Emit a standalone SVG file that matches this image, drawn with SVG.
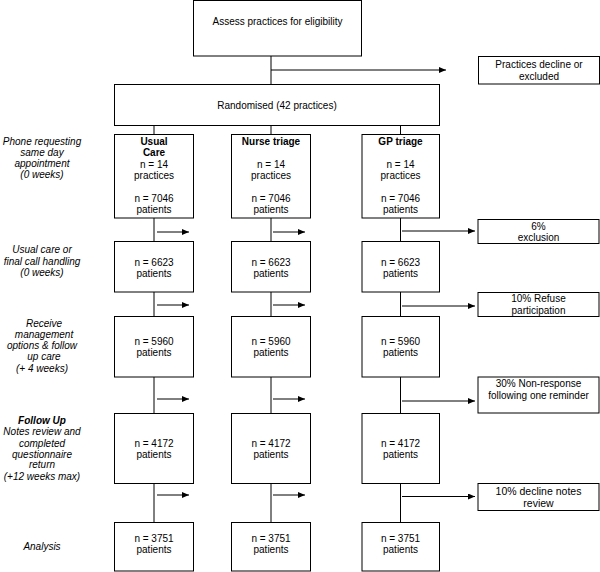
<svg xmlns="http://www.w3.org/2000/svg" width="600" height="572" viewBox="0 0 600 572">
<defs>
<marker id="ah" markerWidth="7" markerHeight="6" refX="7" refY="3" orient="auto" markerUnits="userSpaceOnUse">
<path d="M0,0 L7,3 L0,6 Z" fill="#000"/>
</marker>
<style>
rect{fill:#fff;stroke:#000;stroke-width:1}
text{font-family:"Liberation Sans",Arial,sans-serif;font-size:10px;fill:#000;text-anchor:middle}
.b{font-weight:bold}
.i{font-style:italic}
.c line{stroke:#000;stroke-width:1}
.c .a{marker-end:url(#ah)}
</style>
</defs>
<rect x="0" y="0" width="600" height="572" style="stroke:none"/>

<g class="c" id="connectors">
<line x1="271" y1="56" x2="271" y2="84"/>
<line class="a" x1="271" y1="70" x2="446" y2="70"/>
<line x1="154" y1="125.5" x2="154" y2="134.5"/>
<line x1="271" y1="125.5" x2="271" y2="134.5"/>
<line x1="400.5" y1="125.5" x2="400.5" y2="134.5"/>
<line x1="154" y1="218" x2="154" y2="241"/>
<line x1="271" y1="218" x2="271" y2="241"/>
<line x1="400.5" y1="218" x2="400.5" y2="241"/>
<line x1="154" y1="292" x2="154" y2="316"/>
<line x1="271" y1="292" x2="271" y2="316"/>
<line x1="400.5" y1="292" x2="400.5" y2="316"/>
<line x1="154" y1="377" x2="154" y2="413"/>
<line x1="271" y1="377" x2="271" y2="413"/>
<line x1="400.5" y1="377" x2="400.5" y2="413"/>
<line x1="154" y1="483" x2="154" y2="522"/>
<line x1="271" y1="483" x2="271" y2="522"/>
<line x1="400.5" y1="483" x2="400.5" y2="522"/>
<line class="a" x1="157" y1="232" x2="189" y2="232"/>
<line class="a" x1="273" y1="232" x2="305" y2="232"/>
<line class="a" x1="402" y1="231" x2="475" y2="231"/>
<line class="a" x1="157" y1="305" x2="189" y2="305"/>
<line class="a" x1="273" y1="305" x2="305" y2="305"/>
<line class="a" x1="402" y1="306" x2="475" y2="306"/>
<line class="a" x1="157" y1="399" x2="189" y2="399"/>
<line class="a" x1="273" y1="399" x2="305" y2="399"/>
<line class="a" x1="402" y1="401" x2="475" y2="401"/>
<line class="a" x1="157" y1="495" x2="189" y2="495"/>
<line class="a" x1="273" y1="495" x2="305" y2="495"/>
<line class="a" x1="402" y1="496.5" x2="475" y2="496.5"/>
</g>

<g id="assess"><rect x="193.5" y="0.5" width="168" height="55.5"/><text x="277.5" y="25">Assess practices for eligibility</text></g>
<g id="decline"><rect x="478.5" y="56.5" width="121" height="27.5"/><text x="539" y="67.5">Practices decline or</text><text x="539" y="80">excluded</text></g>
<g id="randomised"><rect x="114.5" y="84.5" width="325" height="41"/><text x="277" y="108.5">Randomised  (42 practices)</text></g>

<g id="lbl1" class="i"><text x="42" y="144.5" class="i">Phone requesting</text><text x="42" y="155.5" class="i">same day</text><text x="42" y="166.5" class="i">appointment</text><text x="42" y="178" class="i">(0 weeks)</text></g>
<g id="lbl2"><text x="42" y="253" class="i">Usual care or</text><text x="42" y="264.5" class="i">final call handling</text><text x="42" y="276" class="i">(0 weeks)</text></g>
<g id="lbl3"><text x="44" y="326.5" class="i">Receive</text><text x="44" y="337.5" class="i">management</text><text x="42" y="349" class="i">options &amp; follow</text><text x="44" y="360" class="i">up care</text><text x="42" y="371.5" class="i">(+ 4 weeks)</text></g>
<g id="lbl4"><text x="42" y="423.5" class="i b">Follow Up</text><text x="42" y="434.5" class="i">Notes review and</text><text x="42" y="446.5" class="i">completed</text><text x="42" y="457.5" class="i">questionnaire</text><text x="42" y="468" class="i">return</text><text x="42" y="479.5" class="i">(+12 weeks max)</text></g>
<g id="lbl5"><text x="42" y="549.5" class="i">Analysis</text></g>

<g id="uc1"><rect x="114.5" y="134.5" width="79" height="83.5"/><text x="154" y="145" class="b">Usual</text><text x="154" y="156" class="b">Care</text><text x="154" y="167.5">n = 14</text><text x="154" y="178.5">practices</text><text x="154" y="201.5">n = 7046</text><text x="154" y="212.5">patients</text></g>
<g id="nt1"><rect x="231.5" y="134.5" width="79" height="83.5"/><text x="271" y="145" class="b">Nurse triage</text><text x="271" y="167.5">n = 14</text><text x="271" y="178.5">practices</text><text x="271" y="201.5">n = 7046</text><text x="271" y="212.5">patients</text></g>
<g id="gp1"><rect x="362" y="134.5" width="77.5" height="83.5"/><text x="400.5" y="145" class="b">GP triage</text><text x="400.5" y="167.5">n = 14</text><text x="400.5" y="178.5">practices</text><text x="400.5" y="201.5">n = 7046</text><text x="400.5" y="212.5">patients</text></g>

<g id="ex1"><rect x="478" y="219.5" width="121" height="24"/><text x="538.5" y="229.5">6%</text><text x="538.5" y="241">exclusion</text></g>

<g id="uc2"><rect x="114.5" y="241.5" width="79" height="50.5"/><text x="154" y="265.5">n = 6623</text><text x="154" y="277">patients</text></g>
<g id="nt2"><rect x="231.5" y="241.5" width="79" height="50.5"/><text x="271" y="265.5">n = 6623</text><text x="271" y="277">patients</text></g>
<g id="gp2"><rect x="362" y="241.5" width="77.5" height="50.5"/><text x="400.5" y="265.5">n = 6623</text><text x="400.5" y="277">patients</text></g>

<g id="ex2"><rect x="478" y="292.5" width="121" height="24"/><text x="538.5" y="302">10% Refuse</text><text x="538.5" y="313.5">participation</text></g>

<g id="uc3"><rect x="114.5" y="316.5" width="79" height="60.5"/><text x="154" y="344.5">n = 5960</text><text x="154" y="356">patients</text></g>
<g id="nt3"><rect x="231.5" y="316.5" width="79" height="60.5"/><text x="271" y="344.5">n = 5960</text><text x="271" y="356">patients</text></g>
<g id="gp3"><rect x="362" y="316.5" width="77.5" height="60.5"/><text x="400.5" y="344.5">n = 5960</text><text x="400.5" y="356">patients</text></g>

<g id="ex3"><rect x="478" y="377" width="121" height="36"/><text x="538.5" y="387">30% Non-response</text><text x="538.5" y="398.5">following one reminder</text></g>

<g id="uc4"><rect x="114.5" y="413.5" width="79" height="70"/><text x="154" y="447">n = 4172</text><text x="154" y="458">patients</text></g>
<g id="nt4"><rect x="231.5" y="413.5" width="79" height="70"/><text x="271" y="447">n = 4172</text><text x="271" y="458">patients</text></g>
<g id="gp4"><rect x="362" y="413.5" width="77.5" height="70"/><text x="400.5" y="447">n = 4172</text><text x="400.5" y="458">patients</text></g>

<g id="ex4"><rect x="478" y="483.5" width="121" height="27"/><text x="538.5" y="495" style="font-size:10.5px">10% decline notes</text><text x="538.5" y="507" style="font-size:10.5px">review</text></g>

<g id="uc5"><rect x="114.5" y="522.5" width="79" height="48.5"/><text x="154" y="541.5">n = 3751</text><text x="154" y="552.5">patients</text></g>
<g id="nt5"><rect x="231.5" y="522.5" width="79" height="48.5"/><text x="271" y="541.5">n = 3751</text><text x="271" y="552.5">patients</text></g>
<g id="gp5"><rect x="362" y="522.5" width="77.5" height="48.5"/><text x="400.5" y="541.5">n = 3751</text><text x="400.5" y="552.5">patients</text></g>
</svg>
